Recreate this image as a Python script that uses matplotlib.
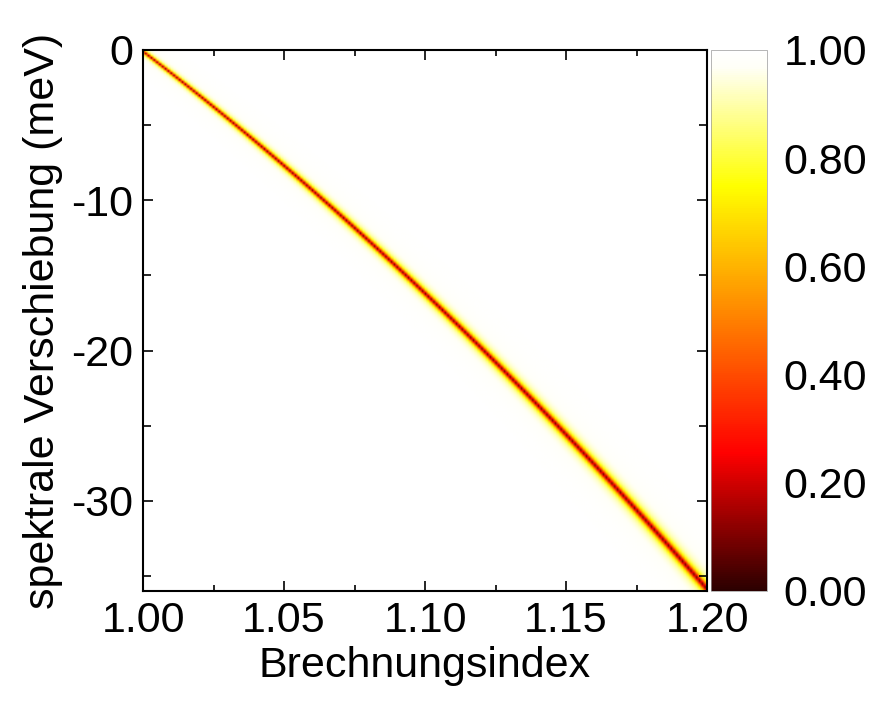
import numpy as np
import matplotlib
matplotlib.use("Agg")
import matplotlib.pyplot as plt
from matplotlib.colors import LinearSegmentedColormap
from matplotlib.ticker import MultipleLocator

plt.rcParams['font.family'] = ['Liberation Sans', 'DejaVu Sans']
plt.rcParams['axes.unicode_minus'] = False

# resonance position of the dip vs. refractive index
index_pts = [1.00, 1.05, 1.10, 1.15, 1.20]
shift_pts = [0.0, -7.9, -16.1, -25.6, -36.0]
# half width (meV) of the dip at those indices
width_pts = [0.11, 0.15, 0.2, 0.25, 0.31]
dip_min = 0.12

cbar_ticks = [0.0, 0.2, 0.4, 0.6, 0.8, 1.0]

# black -> red -> orange -> yellow -> white
cmap = LinearSegmentedColormap.from_list('hotmap', [
    (0.00, (0.17, 0.0, 0.0)),
    (0.255, (1.0, 0.0, 0.0)),
    (0.50, (1.0, 0.5, 0.0)),
    (0.75, (1.0, 1.0, 0.0)),
    (0.97, (1.0, 1.0, 0.97)),
    (1.00, (1.0, 1.0, 1.0)),
])

n = np.linspace(index_pts[0], index_pts[-1], 201)
e = np.linspace(0, -36, 1400)
center = np.polyval(np.polyfit(index_pts, shift_pts, 2), n)
gamma = np.polyval(np.polyfit(index_pts, width_pts, 1), n)
N, E = np.meshgrid(n, e)
u = (E - center[None, :]) / gamma[None, :]
trans = 1 - (1 - dip_min) / (1 + u**2)

fs = 31
fig = plt.figure(figsize=(8.72, 7.14), dpi=100)
ax = fig.add_axes([0.164, 0.1723, 0.6468, 0.7577])
cax = fig.add_axes([0.8154, 0.1723, 0.0642, 0.7577])

im = ax.imshow(trans, cmap=cmap, vmin=0, vmax=1, aspect='auto', origin='upper',
               extent=[n[0] - 0.0005, n[-1] + 0.0005, -36, 0], interpolation='bilinear')
ax.set_xlim(1.0, 1.2)
ax.set_ylim(-36, 0)
ax.xaxis.set_minor_locator(MultipleLocator(0.025))
ax.yaxis.set_major_locator(MultipleLocator(10))
ax.yaxis.set_minor_locator(MultipleLocator(5))
ax.set_xticks([1.00, 1.05, 1.10, 1.15, 1.20])
ax.set_xticklabels(['1.00', '1.05', '1.10', '1.15', '1.20'])
ax.tick_params(which='both', direction='in', top=True, right=True, labelsize=fs, width=1.2, colors='black')
ax.tick_params(which='major', length=7, pad=7)
ax.tick_params(which='minor', length=4)
ax.tick_params(axis='y', which='minor', length=6)
for s in ax.spines.values():
    s.set_linewidth(1.5)

ax.set_xlabel('Brechnungsindex', fontsize=fs, labelpad=4)
ax.set_ylabel('spektrale Verschiebung (meV)', fontsize=fs, labelpad=6)

cb = fig.colorbar(im, cax=cax, ticks=cbar_ticks)
cb.ax.set_yticklabels(['%.2f' % t for t in cbar_ticks])
cb.ax.tick_params(length=0, labelsize=fs, pad=12)
cb.outline.set_linewidth(0.5)
cb.outline.set_edgecolor('#999999')

fig.savefig('out.png', dpi=100)
